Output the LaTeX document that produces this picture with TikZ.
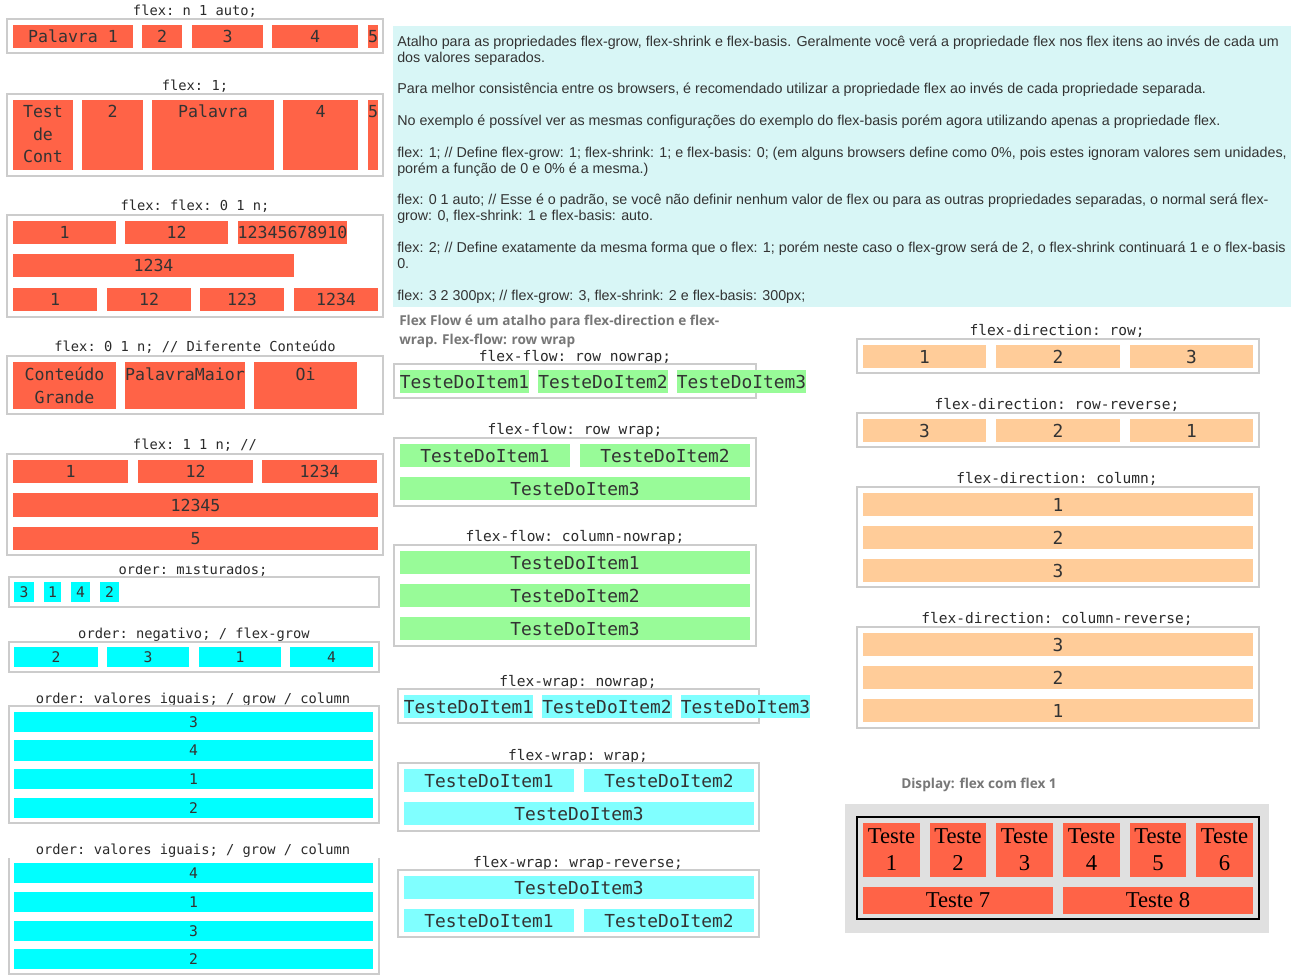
\documentclass[tikz,border=0pt]{standalone}
\usepackage{fontspec}
\setmainfont{Liberation Serif}
\setmonofont{DejaVu Sans Mono}
\newfontfamily\fxarial{Liberation Sans}
\newfontfamily\fxopen{Open Sans}

\definecolor{tomato}{HTML}{FF6347}
\definecolor{aqua}{HTML}{00FFFF}
\definecolor{palegreen}{HTML}{98FB98}
\definecolor{lightaqua}{HTML}{80FFFF}
\definecolor{peach}{HTML}{FFCC99}
\definecolor{framegray}{HTML}{CCCCCC}
\definecolor{notebg}{HTML}{D8F6F6}
\definecolor{panelgray}{HTML}{E0E0E0}
\definecolor{inktext}{HTML}{333333}
\definecolor{labelink}{HTML}{2A2A2A}
\definecolor{captiongray}{HTML}{777777}

\newcommand\fxred{\ttfamily\fontsize{12.45pt}{15pt}\selectfont}
\newcommand\fxbig{\ttfamily\fontsize{13.4pt}{16pt}\selectfont}
\newcommand\fxord{\ttfamily\fontsize{11pt}{13pt}\selectfont}
\newcommand\fxlbl{\ttfamily\fontsize{10.3pt}{12pt}\selectfont}
\newcommand\fxlblw{\ttfamily\fontsize{10.9pt}{12pt}\selectfont}
\newcommand\fxpara{\fxarial\fontsize{10.72pt}{12pt}\selectfont}
\newcommand\fxhead{\fxopen\bfseries\fontsize{10.2pt}{12pt}\selectfont}
\newcommand\fxserif{\rmfamily\fontsize{17pt}{20.25pt}\selectfont}

% a box given by its corners (in px): name, x1, y1, x2, y2, style, text
\newcommand\fxbox[7]{\node[#6,minimum width={(#4-(#2))*0.75pt},minimum height={(#5-(#3))*0.75pt}] (#1) at ({(#2+#4)/2},{(#3+#5)/2}) {#7};}

\tikzset{
  frame/.style={draw=framegray,line width=1.5pt,inner sep=0pt,outer sep=0pt},
  cell/.style={inner sep=0pt,outer sep=0pt,text=inktext},
  tom/.style={cell,fill=tomato,font=\fxred,text height=9.07pt,text depth=0pt},
  tomtop/.style={cell,fill=tomato},
  ttxt/.style={inner sep=0pt,font=\fxred,text=inktext,anchor=base},
  grn/.style={cell,fill=palegreen,font=\fxbig,text height=9.77pt,text depth=0pt},
  aq/.style={cell,fill=lightaqua,font=\fxbig,text height=9.77pt,text depth=0pt},
  ord/.style={cell,fill=aqua,font=\fxord,text height=8pt,text depth=0pt},
  pch/.style={cell,fill=peach,font=\fxbig,text height=9.77pt,text depth=0pt},
  tst/.style={cell,fill=tomato,text=black,font=\fxserif,align=center},
  lbl/.style={inner sep=0pt,font=\fxlbl,text=labelink,anchor=base},
  lblw/.style={lbl,font=\fxlblw},
  para/.style={inner sep=0pt,font=\fxpara,text=inktext,anchor=base west},
  head/.style={inner sep=0pt,font=\fxhead,text=captiongray,anchor=base west},
  notebox/.style={fill=notebg,inner sep=0pt,outer sep=0pt},
  panel/.style={fill=panelgray,inner sep=0pt,outer sep=0pt},
  blackframe/.style={draw=black,line width=0.9pt,inner sep=0pt,outer sep=0pt},
}

\begin{document}
\begin{tikzpicture}[x=0.75pt,y=-0.75pt]
\useasboundingbox (0,0) rectangle (1312,978);
\fill[white] (0,0) rectangle (1312,978);

% ---------------- left column: flex shorthand ----------------
\node[lbl] (l1) at (195,15.5) {flex: n 1 auto;};
\fxbox{c1}{7}{19}{383}{53}{frame}{}
\fxbox{c1a}{13}{25}{133}{48}{tom}{Palavra 1}
\fxbox{c1b}{142}{25}{182}{48}{tom}{2}
\fxbox{c1c}{192}{25}{263}{48}{tom}{3}
\fxbox{c1d}{272}{25}{358}{48}{tom}{4}
\fxbox{c1e}{368}{25}{378}{48}{tom}{5}

\node[lbl] (l2) at (195,90) {flex: 1;};
\fxbox{c2}{7}{94}{383}{176}{frame}{}
\fxbox{c2a}{13}{100}{73}{170}{tomtop}{}
\fxbox{c2b}{82}{100}{143}{170}{tomtop}{}
\fxbox{c2c}{152}{100}{274}{170}{tomtop}{}
\fxbox{c2d}{283}{100}{358}{170}{tomtop}{}
\fxbox{c2e}{368}{100}{378}{170}{tomtop}{}
\node[ttxt] (t2a1) at (43,117) {Test};
\node[ttxt] (t2a2) at (43,140) {de};
\node[ttxt] (t2a3) at (43,162) {Cont};
\node[ttxt] (t2b) at (112.5,117) {2};
\node[ttxt] (t2c) at (213,117) {Palavra};
\node[ttxt] (t2d) at (320.5,117) {4};
\node[ttxt] (t2e) at (373,117) {5};

\node[lbl] (l3) at (195,210) {flex: flex: 0 1 n;};
\fxbox{c3}{7}{215}{383}{317}{frame}{}
\fxbox{c3a}{13}{221}{116}{244}{tom}{1}
\fxbox{c3b}{125}{221}{228}{244}{tom}{12}
\fxbox{c3c}{238}{221}{347}{244}{tom}{12345678910}
\fxbox{c3d}{13}{254}{294}{277}{tom}{1234}
\fxbox{c3e}{13}{288}{97}{311}{tom}{1}
\fxbox{c3f}{107}{288}{191}{311}{tom}{12}
\fxbox{c3g}{200}{288}{284}{311}{tom}{123}
\fxbox{c3h}{294}{288}{378}{311}{tom}{1234}

\node[lbl] (l4) at (195,351) {flex: 0 1 n; // Diferente Conteúdo};
\fxbox{c4}{7}{356}{383}{414}{frame}{}
\fxbox{c4a}{13}{362}{116}{409}{tomtop}{}
\fxbox{c4b}{125}{362}{245}{409}{tomtop}{}
\fxbox{c4c}{254}{362}{357}{409}{tomtop}{}
\node[ttxt] (t4a1) at (64.5,380) {Conteúdo};
\node[ttxt] (t4a2) at (64.5,403) {Grande};
\node[ttxt] (t4b) at (185,380) {PalavraMaior};
\node[ttxt] (t4c) at (305.5,380) {Oi};

\node[lbl] (l5) at (195,449) {flex: 1 1 n; //};
\fxbox{c5}{7}{454}{383}{555}{frame}{}
\fxbox{c5a}{13}{460}{128}{483}{tom}{1}
\fxbox{c5b}{138}{460}{253}{483}{tom}{12}
\fxbox{c5c}{262}{460}{377}{483}{tom}{1234}
\fxbox{c5d}{13}{493}{378}{517}{tom}{12345}
\fxbox{c5e}{13}{527}{378}{550}{tom}{5}

% ---------------- left column: order ----------------
\begin{scope}
  \clip (0,565) rectangle (392,580);
  \node[lbl] (l6) at (193,574) {order: misturados;};
\end{scope}
\fxbox{c6}{9}{577}{379}{607}{frame}{}
\fxbox{c6a}{14}{582}{34}{602}{ord}{3}
\fxbox{c6b}{44}{582}{61}{602}{ord}{1}
\fxbox{c6c}{71}{582}{90}{602}{ord}{4}
\fxbox{c6d}{100}{582}{119}{602}{ord}{2}

\node[lbl] (l7) at (194,638) {order: negativo; / flex-grow};
\fxbox{c7}{9}{642}{379}{672}{frame}{}
\fxbox{c7a}{14}{647}{98}{667}{ord}{2}
\fxbox{c7b}{107}{647}{189}{667}{ord}{3}
\fxbox{c7c}{199}{647}{281}{667}{ord}{1}
\fxbox{c7d}{290}{647}{373}{667}{ord}{4}

\node[lbl] (l8) at (193,703) {order: valores iguais; / grow / column};
\fxbox{c8}{9}{706}{379}{823}{frame}{}
\fxbox{c8a}{14}{712}{373}{732}{ord}{3}
\fxbox{c8b}{14}{740}{373}{761}{ord}{4}
\fxbox{c8c}{14}{769}{373}{789}{ord}{1}
\fxbox{c8d}{14}{798}{373}{818}{ord}{2}

\node[lbl] (l9) at (193,854) {order: valores iguais; / grow / column};
\draw[framegray,line width=1.5pt] (9,858) -- (9,974) -- (379,974) -- (379,858);
\fxbox{c9a}{14}{863}{373}{883}{ord}{4}
\fxbox{c9b}{14}{892}{373}{912}{ord}{1}
\fxbox{c9c}{14}{921}{373}{941}{ord}{3}
\fxbox{c9d}{14}{949}{373}{969}{ord}{2}

% ---------------- explanatory note ----------------
\fxbox{note}{393}{26}{1291}{307}{notebox}{}
\node[para] (p1) at (397,46) {Atalho para as propriedades flex-grow, flex-shrink e flex-basis. Geralmente você verá a propriedade flex nos flex itens ao invés de cada um};
\node[para] (p2) at (397,62) {dos valores separados.};
\node[para] (p3) at (397,93) {Para melhor consistência entre os browsers, é recomendado utilizar a propriedade flex ao invés de cada propriedade separada.};
\node[para] (p4) at (397,125) {No exemplo é possível ver as mesmas configurações do exemplo do flex-basis porém agora utilizando apenas a propriedade flex.};
\node[para] (p5) at (397,157) {flex: 1; // Define flex-grow: 1; flex-shrink: 1; e flex-basis: 0; (em alguns browsers define como 0\%, pois estes ignoram valores sem unidades,};
\node[para] (p6) at (397,173) {porém a função de 0 e 0\% é a mesma.)};
\node[para] (p7) at (397,204) {flex: 0 1 auto; // Esse é o padrão, se você não definir nenhum valor de flex ou para as outras propriedades separadas, o normal será flex-};
\node[para] (p8) at (397,220) {grow: 0, flex-shrink: 1 e flex-basis: auto.};
\node[para] (p9) at (397,252) {flex: 2; // Define exatamente da mesma forma que o flex: 1; porém neste caso o flex-grow será de 2, o flex-shrink continuará 1 e o flex-basis};
\node[para] (p10) at (397,268) {0.};
\node[para] (p11) at (397,300) {flex: 3 2 300px; // flex-grow: 3, flex-shrink: 2 e flex-basis: 300px;};

% ---------------- middle column: flex-flow ----------------
\node[head] (h1) at (399,325) {Flex Flow é um atalho para flex-direction e flex-};
\node[head] (h2) at (399,344) {wrap. Flex-flow: row wrap};

\node[lblw] (lA) at (575,361) {flex-flow: row nowrap;};
\fxbox{cA}{394}{364}{756}{398}{frame}{}
\fxbox{cAa}{400}{370}{529}{393}{grn}{TesteDoItem1}
\fxbox{cAb}{539}{370}{667}{393}{grn}{TesteDoItem2}
\fxbox{cAc}{677}{370}{806}{393}{grn}{TesteDoItem3}

\node[lblw] (lB) at (575,434) {flex-flow: row wrap;};
\fxbox{cB}{394}{438}{756}{506}{frame}{}
\fxbox{cBa}{400}{444}{570}{467}{grn}{TesteDoItem1}
\fxbox{cBb}{580}{444}{750}{467}{grn}{TesteDoItem2}
\fxbox{cBc}{400}{477}{750}{500}{grn}{TesteDoItem3}

\node[lblw] (lC) at (575,541) {flex-flow: column-nowrap;};
\fxbox{cC}{394}{545}{756}{646}{frame}{}
\fxbox{cCa}{400}{551}{750}{574}{grn}{TesteDoItem1}
\fxbox{cCb}{400}{584}{750}{607}{grn}{TesteDoItem2}
\fxbox{cCc}{400}{617}{750}{640}{grn}{TesteDoItem3}

% ---------------- middle column: flex-wrap ----------------
\node[lblw] (lD) at (578,686) {flex-wrap: nowrap;};
\fxbox{cD}{398}{689}{759}{723}{frame}{}
\fxbox{cDa}{404}{695}{533}{718}{aq}{TesteDoItem1}
\fxbox{cDb}{543}{695}{671}{718}{aq}{TesteDoItem2}
\fxbox{cDc}{681}{695}{810}{718}{aq}{TesteDoItem3}

\node[lblw] (lE) at (578,760) {flex-wrap: wrap;};
\fxbox{cE}{398}{763}{759}{831}{frame}{}
\fxbox{cEa}{404}{769}{574}{792}{aq}{TesteDoItem1}
\fxbox{cEb}{584}{769}{754}{792}{aq}{TesteDoItem2}
\fxbox{cEc}{404}{802}{754}{825}{aq}{TesteDoItem3}

\node[lblw] (lF) at (578,867) {flex-wrap: wrap-reverse;};
\fxbox{cF}{398}{870}{759}{937}{frame}{}
\fxbox{cFa}{404}{876}{754}{899}{aq}{TesteDoItem3}
\fxbox{cFb}{404}{909}{574}{932}{aq}{TesteDoItem1}
\fxbox{cFc}{584}{909}{754}{932}{aq}{TesteDoItem2}

% ---------------- right column: flex-direction ----------------
\node[lblw] (lG) at (1057,335) {flex-direction: row;};
\fxbox{cG}{857}{339}{1259}{373}{frame}{}
\fxbox{cGa}{863}{345}{986}{368}{pch}{1}
\fxbox{cGb}{996}{345}{1120}{368}{pch}{2}
\fxbox{cGc}{1130}{345}{1253}{368}{pch}{3}

\node[lblw] (lH) at (1057,409) {flex-direction: row-reverse;};
\fxbox{cH}{857}{413}{1259}{447}{frame}{}
\fxbox{cHa}{863}{419}{986}{442}{pch}{3}
\fxbox{cHb}{996}{419}{1120}{442}{pch}{2}
\fxbox{cHc}{1130}{419}{1253}{442}{pch}{1}

\node[lblw] (lI) at (1057,483) {flex-direction: column;};
\fxbox{cI}{857}{487}{1259}{587}{frame}{}
\fxbox{cIa}{863}{493}{1253}{516}{pch}{1}
\fxbox{cIb}{863}{526}{1253}{549}{pch}{2}
\fxbox{cIc}{863}{559}{1253}{582}{pch}{3}

\node[lblw] (lJ) at (1057,623) {flex-direction: column-reverse;};
\fxbox{cJ}{857}{627}{1259}{728}{frame}{}
\fxbox{cJa}{863}{633}{1253}{656}{pch}{3}
\fxbox{cJb}{863}{666}{1253}{689}{pch}{2}
\fxbox{cJc}{863}{699}{1253}{722}{pch}{1}

% ---------------- display: flex with flex 1 ----------------
\node[head] (h3) at (901,788) {Display: flex com flex 1};
\fxbox{pn}{845}{804}{1269}{933}{panel}{}
\fxbox{pk}{857}{817}{1259}{919}{blackframe}{}
\fxbox{k1}{863}{823}{920}{877}{tst}{Teste\\1}
\fxbox{k2}{930}{823}{986}{877}{tst}{Teste\\2}
\fxbox{k3}{996}{823}{1053}{877}{tst}{Teste\\3}
\fxbox{k4}{1063}{823}{1120}{877}{tst}{Teste\\4}
\fxbox{k5}{1130}{823}{1186}{877}{tst}{Teste\\5}
\fxbox{k6}{1196}{823}{1253}{877}{tst}{Teste\\6}
\fxbox{k7}{863}{887}{1053}{914}{tst}{Teste 7}
\fxbox{k8}{1063}{887}{1253}{914}{tst}{Teste 8}
\end{tikzpicture}
\end{document}
